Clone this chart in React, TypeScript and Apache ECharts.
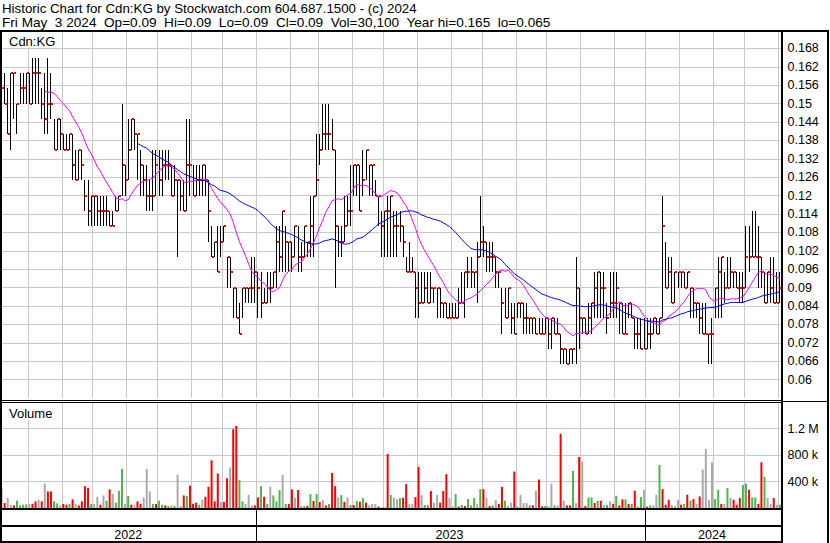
import React, { useEffect, useRef } from "react";
import * as echarts from "echarts";

const months = ["2022-05","2022-06","2022-07","2022-08","2022-09","2022-10","2022-11","2022-12",
  "2023-01","2023-02","2023-03","2023-04","2023-05","2023-06","2023-07","2023-08","2023-09","2023-10","2023-11","2023-12",
  "2024-01","2024-02","2024-03","2024-04","2024-05"];
// number of (2-trading-day) bars in each month
const monthBars = [9,11,10,11,10,11,10,11,11,9,11,10,11,11,10,11,10,11,11,10,11,11,10,11,1];

const high = [.16,.16,.155,.16,.16,.15,.16,.16,.16,.16,
.165,.165,.165,.155,.16,.165,.16,.145,.145,.145,
.14,.14,.14,.14,.135,.135,.135,.125,.125,.12,
.12,.12,.12,.12,.12,.115,.115,.12,.12,.15,
.13,.145,.145,.145,.14,.135,.13,.13,.125,.135,
.135,.135,.135,.135,.135,.13,.13,.125,.125,.125,
.145,.145,.13,.13,.13,.13,.13,.125,.11,.105,
.11,.11,.11,.10,.10,.09,.09,.085,.09,.09,
.09,.10,.10,.095,.095,.09,.095,.095,.095,.11,
.11,.115,.11,.105,.105,.11,.11,.105,.11,.105,
.12,.12,.14,.14,.15,.15,.15,.145,.135,.11,
.11,.12,.12,.13,.13,.13,.13,.135,.135,.13,
.13,.125,.12,.115,.115,.12,.12,.115,.115,.115,
.11,.10,.105,.10,.095,.095,.095,.095,.095,.095,
.09,.09,.09,.085,.085,.085,.085,.085,.09,.095,
.095,.10,.10,.095,.105,.12,.11,.105,.105,.105,
.10,.095,.09,.09,.09,.085,.085,.085,.085,.085,
.085,.08,.08,.08,.08,.08,.08,.08,.08,.08,
.08,.075,.07,.07,.07,.07,.10,.09,.08,.08,
.085,.085,.095,.095,.095,.095,.085,.095,.095,.095,
.085,.085,.085,.085,.085,.08,.08,.08,.08,.08,
.08,.08,.08,.08,.12,.105,.10,.10,.095,.095,
.095,.095,.095,.09,.09,.085,.085,.085,.085,.075,
.08,.09,.10,.10,.095,.10,.10,.095,.095,.095,
.095,.11,.11,.115,.115,.11,.10,.095,.095,.10,
.10,.095,.095];

const low = [.15,.15,.14,.135,.145,.14,.15,.15,.15,.15,
.15,.15,.15,.145,.14,.14,.145,.135,.135,.135,
.135,.135,.135,.125,.125,.125,.125,.115,.11,.11,
.11,.11,.11,.11,.11,.11,.11,.115,.115,.12,
.12,.125,.135,.135,.125,.12,.12,.115,.115,.115,
.12,.12,.12,.125,.125,.12,.12,.10,.115,.115,
.115,.12,.12,.12,.12,.12,.12,.105,.10,.10,
.095,.10,.105,.09,.09,.08,.08,.075,.08,.085,
.085,.085,.085,.08,.08,.085,.085,.085,.09,.09,
.095,.095,.095,.095,.095,.10,.095,.095,.10,.10,
.10,.10,.12,.13,.135,.135,.135,.135,.09,.10,
.10,.105,.11,.11,.12,.12,.115,.12,.125,.12,
.12,.12,.11,.10,.10,.10,.10,.10,.10,.105,
.10,.095,.095,.095,.08,.08,.085,.085,.085,.085,
.085,.08,.08,.08,.08,.08,.08,.08,.08,.085,
.08,.09,.09,.09,.085,.10,.10,.095,.095,.095,
.09,.09,.075,.08,.08,.075,.075,.08,.08,.075,
.075,.075,.075,.075,.075,.075,.075,.07,.07,.075,
.075,.065,.065,.065,.065,.065,.065,.07,.075,.075,
.075,.075,.08,.08,.08,.08,.075,.08,.08,.08,
.075,.075,.075,.08,.08,.07,.07,.07,.07,.07,
.07,.075,.075,.075,.08,.09,.09,.085,.085,.09,
.09,.09,.09,.08,.08,.08,.075,.075,.075,.065,
.065,.08,.08,.08,.085,.09,.09,.09,.09,.085,
.085,.09,.095,.10,.10,.09,.09,.085,.085,.085,
.085,.085,.085];

const close = [.155,.15,.14,.16,.16,.15,.155,.155,.16,.15,
.16,.16,.16,.15,.145,.15,.15,.135,.145,.14,
.135,.135,.14,.13,.125,.135,.13,.12,.115,.12,
.12,.115,.115,.115,.115,.11,.11,.115,.12,.13,
.125,.135,.145,.14,.14,.13,.125,.12,.12,.12,
.13,.125,.13,.13,.13,.12,.125,.125,.12,.115,
.13,.13,.12,.125,.125,.13,.125,.115,.10,.105,
.095,.105,.11,.10,.095,.09,.08,.075,.09,.09,
.09,.09,.095,.09,.085,.085,.09,.09,.095,.105,
.10,.115,.105,.105,.10,.11,.10,.10,.11,.105,
.11,.12,.125,.135,.14,.14,.14,.135,.11,.105,
.105,.11,.115,.115,.13,.13,.115,.125,.135,.13,
.13,.12,.12,.11,.115,.115,.12,.11,.11,.11,
.105,.095,.095,.095,.09,.085,.085,.09,.085,.09,
.09,.09,.085,.085,.08,.08,.08,.08,.085,.085,
.095,.095,.095,.095,.10,.105,.105,.10,.10,.10,
.095,.095,.085,.08,.09,.08,.075,.085,.085,.08,
.08,.08,.08,.075,.075,.075,.08,.075,.08,.075,
.075,.07,.07,.065,.07,.07,.09,.08,.08,.075,
.08,.085,.09,.095,.09,.09,.08,.085,.085,.09,
.085,.075,.075,.085,.08,.075,.075,.07,.07,.075,
.075,.08,.075,.08,.11,.09,.095,.085,.095,.095,
.095,.09,.095,.09,.085,.085,.08,.075,.075,.075,
.075,.09,.095,.10,.09,.09,.095,.095,.09,.09,
.09,.10,.10,.10,.10,.10,.095,.085,.095,.09,
.085,.085,.09];

// volume in thousands of shares
const volumeK = [290,75,150,50,40,110,40,50,55,60,
60,100,125,100,370,250,250,100,70,40,
60,50,60,130,60,40,100,330,300,60,
60,170,50,190,110,280,210,80,260,590,
60,180,50,40,100,60,160,590,250,60,
60,110,50,40,30,40,30,500,30,190,
180,340,60,80,50,125,170,320,720,100,
520,90,90,450,610,1190,1240,420,100,60,
200,40,40,160,330,170,60,320,190,100,
270,500,60,60,280,156,272,30,30,30,
210,105,210,90,120,40,60,530,330,160,
195,90,160,45,45,105,95,150,80,40,
60,60,20,10,10,815,195,160,135,150,
155,360,60,60,165,620,195,45,45,255,
80,195,80,255,510,150,25,210,20,45,
30,135,40,150,60,285,285,155,30,40,
120,60,320,110,30,75,550,20,200,75,
75,40,40,260,430,25,30,30,370,40,
40,1120,110,40,40,560,75,770,700,30,
160,160,75,110,110,45,45,100,60,185,
40,130,130,60,60,260,20,165,275,20,
40,40,200,650,285,50,125,45,25,125,
50,60,200,110,135,60,175,580,890,125,
690,135,275,60,60,300,150,125,50,150,
350,370,275,160,160,60,690,470,150,60,
150,50,50];

// volume bar colour: r = down, g = up, n = unchanged
const volumeDir = ("nrnnrggggn" + "rrnrnrrggn" + "rrgrnrrrrg" + "nnrngrnggg" + "ngrnrrnnng" +
  "rggrgngnnr" + "grrrgnrrrr" + "rnrrnrrggn" + "nnrrgrgngg" + "gngrrnrngr" +
  "grgrnrgrrn" + "grngrgrgrn" + "nnrnnrgnng" + "rrnnrrnggr" + "nnrrrnngrg" +
  "rgggngrnrg" + "nrrgnnrgnn" + "ngrnrrgnng" + "nrnrrgnrnr" + "ggrgrngnrg" +
  "rrgrgrggnr" + "gnngrrrngn" + "rgrgrnrnnn" + "nggrngnrrr" + "ggrggrrgnn" + "rng").split("");

const titleLine1 = "Historic Chart for Cdn:KG by Stockwatch.com 604.687.1500 - (c) 2024";
const titleLine2 = "Fri May\u00a0 3 2024\u00a0 Op=0.09\u00a0 Hi=0.09\u00a0 Lo=0.09\u00a0 Cl=0.09\u00a0 Vol=30,100\u00a0 Year hi=0.165\u00a0 lo=0.065";
const symbolLabel = "Cdn:KG";
const volumeLabel = "Volume";

const FONT = "'Liberation Sans', Arial, sans-serif";

function movingAverage(values: number[], n: number) {
  const out: (number | string)[] = [];
  let sum = 0;
  for (let i = 0; i < values.length; i++) {
    sum += values[i];
    if (i >= n) sum -= values[i - n];
    out.push(i >= n - 1 ? sum / n : "-");
  }
  return out;
}

export default function App() {
  const ref = useRef<HTMLDivElement>(null);
  useEffect(() => {
    document.body.style.margin = "0";
    const chart = echarts.init(ref.current as HTMLDivElement, null, { renderer: "svg" });

    const categories: string[] = [];
    const monthStart = new Set<number>();
    const yearStart = new Set<number>();
    const yearRange: Record<string, [number, number]> = {};
    months.forEach((m, mi) => {
      for (let k = 0; k < monthBars[mi]; k++) {
        const idx = categories.length;
        if (k === 0) {
          monthStart.add(idx);
          if (m.endsWith("-01")) yearStart.add(idx);
        }
        const y = m.slice(0, 4);
        if (!yearRange[y]) yearRange[y] = [idx, idx];
        yearRange[y][1] = idx;
        categories.push(m + "-" + k);
      }
    });
    const yearLabelIdx = new Set<number>();
    Object.values(yearRange).forEach(([a, b]) => yearLabelIdx.add(Math.floor((a + b) / 2)));

    const ohlc = high.map((h, i) => [i, h, low[i], close[i]]);
    const ma30 = movingAverage(close, 15);
    const ma90 = movingAverage(close, 45);
    const dirColor: Record<string, string> = { r: "#ff0000", g: "#4cb84c", n: "#aaaaaa" };
    const vol = volumeK.map((v, i) => ({ value: v * 1000, itemStyle: { color: dirColor[volumeDir[i]] } }));

    const grid = { left: 0, right: 48.5, outerBoundsMode: "none", containLabel: false };
    const monthSplit = {
      show: true,
      interval: (idx: number) => monthStart.has(idx),
      lineStyle: { color: "#c8c8c8", width: 1 },
    };
    const hiddenCat = (gridIndex: number) => ({
      type: "category",
      gridIndex,
      data: categories,
      boundaryGap: true,
      axisLine: { show: false },
      axisTick: { show: false },
      axisLabel: { show: false },
      splitLine: monthSplit,
    });
    const blk = (x: number, y: number, w: number, h: number) => ({
      type: "rect", z: 100, silent: true, shape: { x, y, width: w, height: h }, style: { fill: "#000" },
    });
    const txt = (x: number, y: number, text: string, size: number) => ({
      type: "text", z: 101, silent: true, x, y,
      style: { text, fill: "#000", font: `${size}px ${FONT}`, verticalAlign: "middle", textVerticalAlign: "middle" },
    });

    const option: any = {
      animation: false,
      backgroundColor: "#fff",
      grid: [
        { ...grid, top: 30, height: 368 },
        { ...grid, top: 402, height: 106 },
        { ...grid, top: 509, height: 33 },
      ],
      xAxis: [
        hiddenCat(0),
        hiddenCat(1),
        {
          type: "category",
          gridIndex: 2,
          data: categories,
          boundaryGap: true,
          axisLine: { show: false },
          axisTick: { show: false },
          splitLine: { show: true, interval: (idx: number) => yearStart.has(idx), lineStyle: { color: "#000", width: 1 } },
          axisLabel: {
            show: true,
            inside: true,
            margin: 1,
            interval: (idx: number) => yearLabelIdx.has(idx),
            formatter: (v: string) => v.slice(0, 4),
            color: "#000",
            fontSize: 12.5,
            fontFamily: FONT,
          },
        },
      ],
      yAxis: [
        {
          type: "value",
          gridIndex: 0,
          position: "right",
          min: 0.054,
          max: 0.174,
          interval: 0.006,
          axisLine: { show: false },
          axisTick: { show: false },
          axisLabel: {
            showMinLabel: false,
            showMaxLabel: false,
            margin: 6,
            color: "#000",
            fontSize: 12.5,
            fontFamily: FONT,
            formatter: (v: number) => String(+v.toFixed(3)),
          },
          splitLine: { show: true, showMinLine: false, showMaxLine: false, lineStyle: { color: "#c8c8c8", width: 1 } },
        },
        {
          type: "value",
          gridIndex: 1,
          position: "right",
          min: 0,
          max: 1600000,
          interval: 400000,
          axisLine: { show: false },
          axisTick: { show: false },
          axisLabel: {
            showMinLabel: false,
            showMaxLabel: false,
            margin: 6,
            color: "#000",
            fontSize: 12.5,
            fontFamily: FONT,
            formatter: (v: number) => (v >= 1e6 ? `${v / 1e6} M` : `${v / 1e3} k`),
          },
          splitLine: { show: true, showMinLine: false, showMaxLine: false, lineStyle: { color: "#c8c8c8", width: 1 } },
        },
        { type: "value", gridIndex: 2, show: false },
      ],
      series: [
        {
          type: "custom",
          name: "OHLC",
          xAxisIndex: 0,
          yAxisIndex: 0,
          data: ohlc,
          encode: { x: 0, y: [1, 2, 3] },
          silent: true,
          renderItem: (params: any, api: any) => {
            const i = api.value(0);
            const top = api.coord([i, api.value(1)]);
            const bot = api.coord([i, api.value(2)]);
            const c = api.coord([i, api.value(3)]);
            const x = Math.round(top[0] - 0.5);
            const y1 = Math.round(top[1]);
            const y2 = Math.round(bot[1]);
            return {
              type: "group",
              children: [
                { type: "rect", shape: { x, y: y1, width: 1, height: Math.max(y2 - y1, 1) }, style: { fill: "#000" } },
                { type: "rect", shape: { x: x + 1, y: Math.round(c[1]) - 1, width: 2, height: 2 }, style: { fill: "#ff0000" } },
              ],
            };
          },
          z: 3,
        },
        {
          type: "line",
          name: "MA30",
          xAxisIndex: 0,
          yAxisIndex: 0,
          data: ma30,
          showSymbol: false,
          silent: true,
          lineStyle: { color: "#ff00ff", width: 1 },
          z: 4,
        },
        {
          type: "line",
          name: "MA90",
          xAxisIndex: 0,
          yAxisIndex: 0,
          data: ma90,
          showSymbol: false,
          silent: true,
          lineStyle: { color: "#0000ff", width: 1 },
          z: 4,
        },
        {
          type: "bar",
          name: "Volume",
          xAxisIndex: 1,
          yAxisIndex: 1,
          data: vol,
          barWidth: 2,
          silent: true,
        },
      ],
      graphic: {
        elements: [
          blk(0, 30, 829, 2),
          blk(0, 30, 2, 513),
          blk(781, 30, 2, 513),
          blk(827, 30, 2, 513),
          blk(0, 400, 783, 1),
          blk(0, 402, 783, 1),
          blk(783, 401, 44, 1),
          blk(0, 508, 783, 2),
          blk(0, 525, 783, 2),
          blk(0, 541, 783, 2),
          { type: "rect", z: 100, silent: true, shape: { x: 2, y: 32, width: 56, height: 16 }, style: { fill: "#fff" } },
          { type: "rect", z: 100, silent: true, shape: { x: 2, y: 403, width: 56, height: 17 }, style: { fill: "#fff" } },
          txt(2, 8.5, titleLine1, 13.3),
          txt(2, 22.5, titleLine2, 13.6),
          txt(9, 41, symbolLabel, 13),
          txt(9, 413, volumeLabel, 13),
        ],
      },
    };
    chart.setOption(option);
    return () => chart.dispose();
  }, []);
  return <div ref={ref} style={{ width: 830, height: 543 }} />;
}
